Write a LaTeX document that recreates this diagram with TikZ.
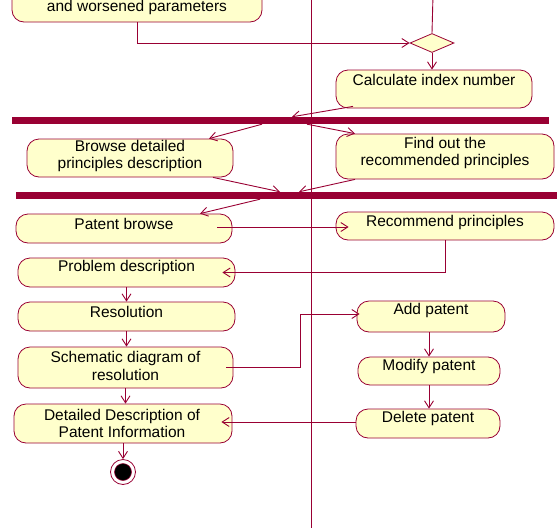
\documentclass[tikz,border=0pt]{standalone}
\usepackage{fontspec}
\setmainfont{Liberation Sans}
\usetikzlibrary{arrows.meta,shapes.geometric}
\definecolor{rosered}{RGB}{153,0,51}
\definecolor{actfill}{RGB}{255,255,204}

\begin{document}
\begin{tikzpicture}[x=1pt,y=-1pt,
  act/.style={draw=rosered, fill=actfill, rounded corners=12pt, inner sep=0pt, line width=0.8pt},
  lbl/.style={font=\fontsize{15.5}{17.5}\selectfont, align=center, inner sep=0pt, text=black},
  flow/.style={draw=rosered, line width=0.9pt, -{Straight Barb[length=7pt,width=9pt]}},
  plain/.style={draw=rosered, line width=0.9pt},
  forkbar/.style={fill=rosered, draw=none, inner sep=0pt, minimum height=7pt},
]
\useasboundingbox (0,0) rectangle (557,528);
\clip (0,0) rectangle (557,528);

% swimlane divider
\coordinate (lanetop) at (311,0);
\coordinate (lanebot) at (311,528);
\draw[draw=rosered, line width=0.8pt] (lanetop) -- (lanebot);

% activities
\node[act, minimum width=250pt, minimum height=50pt] (top) at (137,-3) {};
\node[lbl] (top-t) at (137,7) {and worsened parameters};

\node[diamond, draw=rosered, fill=actfill, line width=0.8pt, inner sep=0pt,
      minimum width=44pt, minimum height=19pt] (dia) at (432,43) {};

\node[act, minimum width=196pt, minimum height=38pt] (calc) at (434,89) {};
\node[lbl] (calc-t) at (434,80) {Calculate index number};

\node[forkbar, minimum width=537pt] (fork1) at (280.5,120.5) {};

\node[act, minimum width=206pt, minimum height=38pt] (browse) at (130,158) {};
\node[lbl] (browse-t) at (130,156) {Browse detailed\\principles description};

\node[act, minimum width=218pt, minimum height=45pt] (findout) at (445,156.5) {};
\node[lbl] (findout-t) at (445,153) {Find out the\\recommended principles};

\node[forkbar, minimum width=541pt] (fork2) at (286.5,195.5) {};

\node[act, minimum width=216pt, minimum height=29pt] (pbrowse) at (124,228.5) {};
\node[lbl] (pbrowse-t) at (124,224) {Patent browse};

\node[act, minimum width=218pt, minimum height=28pt] (rec) at (445,226) {};
\node[lbl] (rec-t) at (445,222) {Recommend principles};

\node[act, minimum width=217pt, minimum height=29pt] (problem) at (126.5,272.5) {};
\node[lbl] (problem-t) at (126.5,267) {Problem description};

\node[act, minimum width=217pt, minimum height=29pt] (resol) at (126.5,316.5) {};
\node[lbl] (resol-t) at (126.5,312) {Resolution};

\node[act, minimum width=215pt, minimum height=41pt] (schem) at (125.5,367.5) {};
\node[lbl] (schem-t) at (125.5,366) {Schematic diagram of\\resolution};

\node[act, minimum width=148pt, minimum height=31pt] (add) at (431,316.5) {};
\node[lbl] (add-t) at (431,310) {Add patent};

\node[act, minimum width=142pt, minimum height=28pt] (modify) at (429,371) {};
\node[lbl] (modify-t) at (429,366) {Modify patent};

\node[act, minimum width=144pt, minimum height=29pt] (delete) at (428,423.5) {};
\node[lbl] (delete-t) at (428,418) {Delete patent};

\node[act, minimum width=218pt, minimum height=39pt] (detail) at (123,423.5) {};
\node[lbl] (detail-t) at (122,423.5) {Detailed Description of\\Patent Information};

% final state
\node[circle, draw=rosered, fill=white, line width=0.8pt, inner sep=0pt, minimum size=25pt] (final) at (123,472) {};
\node[circle, draw=rosered, fill=black, line width=0.5pt, inner sep=0pt, minimum size=17pt] (finalcore) at (final.center) {};

% transitions
\coordinate (incoming) at (433,-5);
\draw[plain] (incoming) -- (dia.north);
\draw[flow] (top.south) |- (dia.west);
\draw[flow] (dia.south) -- (dia.south |- calc.north);
\draw[flow] ([xshift=-81pt,yshift=2pt]calc.south) -- ([xshift=11.5pt]fork1.north);
\draw[flow] ([xshift=-18.5pt]fork1.south) -- ([xshift=79pt]browse.north);
\draw[flow] ([xshift=26.5pt]fork1.south) -- ([xshift=-90pt]findout.north);
\draw[flow] ([xshift=83pt]browse.south) -- ([xshift=-6.5pt]fork2.north);
\draw[flow] ([xshift=-90pt]findout.south) -- ([xshift=12.5pt]fork2.north);
\draw[flow] ([xshift=-26.5pt]fork2.south) -- ([xshift=76pt]pbrowse.north);

\coordinate (pbout) at ([xshift=-15pt,yshift=1.5pt]pbrowse.east);
\coordinate (recin) at ([xshift=13pt]rec.west);
\draw[flow] (pbout) -- (pbout -| recin);

\draw[flow] (rec.south) |- ([xshift=-13pt]problem.east);
\draw[flow] (problem.south) -- (resol.north);
\draw[flow] (resol.south) -- (resol.south |- schem.north);

\coordinate (schout) at ([xshift=-7pt]schem.east);
\coordinate (bend) at (300,314);
\draw[flow] (schout) -| (bend) -- ([xshift=3pt,yshift=2.5pt]add.west);

\draw[flow] (add.south -| modify.north) -- (modify.north);
\draw[flow] (modify.south) -- (modify.south |- delete.north);
\draw[flow] ([yshift=1.5pt]delete.west) -- ([xshift=-11pt,yshift=1.5pt]detail.east);
\draw[flow] (schem.south) -- (schem.south |- detail.north);
\draw[flow] (detail.south) -- (final.north);
\end{tikzpicture}
\end{document}
